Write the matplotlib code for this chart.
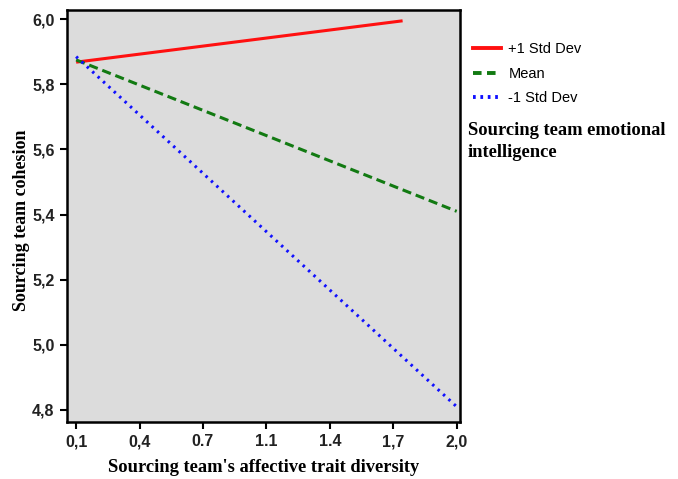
import matplotlib.pyplot as plt
from matplotlib.lines import Line2D

# data
plus_x = [0.1, 1.73]
plus_y = [5.868, 5.995]
mean_x = [0.1, 2.0]
mean_y = [5.875, 5.41]
minus_x = [0.1, 2.0]
minus_y = [5.885, 4.81]

xtick_pos = [0.1, 0.4167, 0.7333, 1.05, 1.3667, 1.6833, 2.0]
xtick_lab = ["0,1", "0,4", "0.7", "1.1", "1.4", "1,7", "2,0"]
ytick_pos = [4.8, 5.0, 5.2, 5.4, 5.6, 5.8, 6.0]
ytick_lab = ["4,8", "5,0", "5,2", "5,4", "5,6", "5,8", "6,0"]

tick_font = ["Liberation Sans", "DejaVu Sans"]
serif = ["Liberation Serif", "DejaVu Serif"]

fig = plt.figure(figsize=(6.78, 4.79), dpi=100)
ax = fig.add_axes([0.099, 0.119, 0.579, 0.86])
ax.set_facecolor("#dcdcdc")

ax.plot(plus_x, plus_y, color="#ff1010", linewidth=2.2, solid_capstyle="butt")
ax.plot(mean_x, mean_y, color="#127a12", linewidth=2.2, linestyle=(0, (3, 1.6)))
ax.plot(minus_x, minus_y, color="#1010ff", linewidth=2.2, linestyle=(0, (0.8, 1.6)))

ax.set_xlim(0.055, 2.015)
ax.set_ylim(4.763, 6.028)
ax.set_xticks(xtick_pos)
ax.set_xticklabels(xtick_lab, family=tick_font, fontweight="bold", fontsize=11.5, color="#222222")
ax.set_yticks(ytick_pos)
ax.set_yticklabels(ytick_lab, family=tick_font, fontweight="bold", fontsize=11.5, color="#222222")
ax.tick_params(direction="out", length=5, width=1.5, pad=4)
for s in ax.spines.values():
    s.set_linewidth(1.8)

ax.set_xlabel("Sourcing team's affective trait diversity", family=serif,
              fontweight="bold", fontsize=13.3, labelpad=7)
ax.set_ylabel("Sourcing team cohesion", family=serif, fontweight="bold", fontsize=13)
ax.yaxis.set_label_coords(-0.094, 0.49)

handles = [
    Line2D([], [], color="#ff1010", linewidth=2.8),
    Line2D([], [], color="#127a12", linewidth=2.8, linestyle=(0, (2.2, 1.4))),
    Line2D([], [], color="#1010ff", linewidth=2.8, linestyle=(0, (0.7, 1.2))),
]
fig.legend(handles, ["+1 Std Dev", "Mean", "-1 Std Dev"], loc="upper left",
           bbox_to_anchor=(0.679, 0.939), frameon=False, handlelength=1.9,
           handletextpad=0.5, labelspacing=0.72,
           prop={"family": tick_font, "size": 10.5})
fig.text(0.69, 0.745, "Sourcing team emotional\nintelligence", family=serif,
         fontweight="bold", fontsize=13.3, va="top", linespacing=1.4)

fig.savefig("out.png", dpi=100)
